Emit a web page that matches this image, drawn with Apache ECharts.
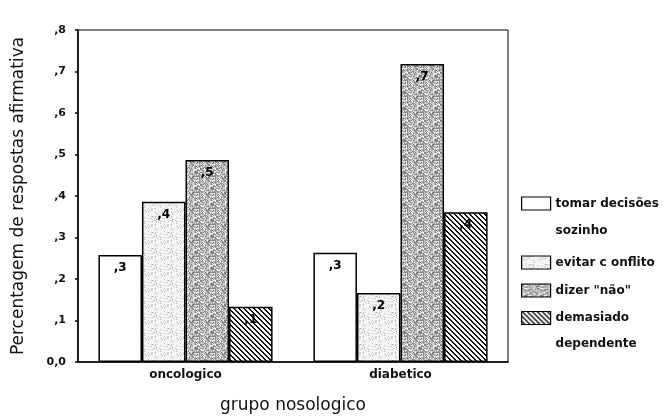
<!DOCTYPE html>
<html>
<head>
<meta charset="utf-8">
<script src="https://cdn.jsdelivr.net/npm/echarts@6/dist/echarts.min.js"></script>
<style>html,body{margin:0;padding:0;background:#fff}#c{width:665px;height:419px}</style>
</head>
<body>
<div id="c"></div>
<script>
var categories = ['oncologico', 'diabetico'];
var seriesNames = ['tomar decisões\nsozinho', 'evitar c onflito', 'dizer "não"', 'demasiado\ndependente'];
var tomarDecisoes = [0.258, 0.263];
var evitarConflito = [0.386, 0.166];
var dizerNao = [0.487, 0.718];
var demasiadoDependente = [0.133, 0.361];
var yTicks = [0, 0.1, 0.2, 0.3, 0.4, 0.5, 0.6, 0.7, 0.8];

function hash(x, y, s) {
  var h = (x * 374761393 + y * 668265263 + s * 982451653) | 0;
  h = (h ^ (h >>> 13)) * 1274126177 | 0;
  h = h ^ (h >>> 16);
  return ((h >>> 0) % 1000) / 1000;
}
function makeCanvas(w, h, fn) {
  var c = document.createElement('canvas');
  c.width = w; c.height = h;
  var ctx = c.getContext('2d');
  fn(ctx, w, h);
  return c;
}
var whitePat = '#ffffff';
var lightPat = makeCanvas(16, 16, function (ctx, w, h) {
  ctx.fillStyle = '#f6f6f6'; ctx.fillRect(0, 0, w, h);
  for (var y = 0; y < h; y++) for (var x = 0; x < w; x++) {
    var r = hash(x, y, 1);
    if (r < 0.22) { var g = 150 + Math.floor(hash(x, y, 2) * 80); ctx.fillStyle = 'rgb(' + g + ',' + g + ',' + g + ')'; ctx.fillRect(x, y, 1, 1); }
  }
});
var darkPat = makeCanvas(16, 16, function (ctx, w, h) {
  for (var y = 0; y < h; y++) for (var x = 0; x < w; x++) {
    var g = 115 + Math.floor(hash(x, y, 3) * 140);
    ctx.fillStyle = 'rgb(' + g + ',' + g + ',' + g + ')'; ctx.fillRect(x, y, 1, 1);
  }
});
var hatchPat = makeCanvas(5, 5, function (ctx, w, h) {
  ctx.fillStyle = '#ffffff'; ctx.fillRect(0, 0, w, h);
  ctx.fillStyle = '#111';
  for (var i = 0; i < w; i++) { ctx.fillRect(i, i, 1, 1); ctx.fillRect((i + 1) % w, i, 1, 1); }
});
var fills = [whitePat, { image: lightPat, repeat: 'repeat' }, { image: darkPat, repeat: 'repeat' }, { image: hatchPat, repeat: 'repeat' }];
var dataArr = [tomarDecisoes, evitarConflito, dizerNao, demasiadoDependente];

var font = 'DejaVu Sans';
var series = seriesNames.map(function (n, i) {
  return {
    name: n, type: 'bar', data: dataArr[i],
    barGap: '0%', barCategoryGap: '19%',
    itemStyle: { color: fills[i], borderColor: '#000', borderWidth: 1.5 },
    label: {
      show: true, position: 'insideTop', distance: 7,
      color: '#000', fontWeight: 'bold', fontSize: 12, fontFamily: font,
      formatter: function (p) { return ',' + Math.round(p.value * 10); }
    }
  };
});

var legendTops = [163, 249, 277, 279];
var legendLineHeights = [27, 27, 27, 26];
var legends = seriesNames.map(function (n, i) {
  var two = n.indexOf('\n') >= 0;
  return {
    data: [n],
    left: 521, top: legendTops[i], padding: 0,
    itemWidth: 29, itemHeight: 13, itemGap: 4,
    icon: 'rect', selectedMode: false,
    itemStyle: { borderColor: '#000', borderWidth: 1.2 },
    formatter: two ? function (name) { return '\n' + name; } : '{name}',
    textStyle: { fontFamily: font, fontWeight: 'bold', fontSize: 12, color: '#111', lineHeight: legendLineHeights[i] }
  };
});

var chart = echarts.init(document.getElementById('c'), null, { renderer: 'canvas' });
chart.setOption({
  animation: false,
  backgroundColor: '#fff',
  legend: legends,
  grid: { left: 78, right: 157, top: 30, bottom: 57, show: true, borderColor: '#000', borderWidth: 1, backgroundColor: 'transparent' },
  xAxis: {
    type: 'category', data: categories,
    name: 'grupo nosologico', nameLocation: 'middle', nameGap: 35,
    nameTextStyle: { fontFamily: font, fontSize: 17, color: '#111' },
    axisLine: { lineStyle: { color: '#000', width: 1.5 } },
    axisTick: { alignWithLabel: true, length: 4, lineStyle: { color: '#000', width: 2 } },
    axisLabel: { fontFamily: font, fontWeight: 'bold', fontSize: 12, color: '#111', margin: 7 }
  },
  yAxis: {
    type: 'value', min: 0, max: 0.8, interval: 0.1,
    name: 'Percentagem de respostas afirmativa', nameLocation: 'middle', nameGap: 51,
    nameTextStyle: { fontFamily: font, fontSize: 17, color: '#111' },
    axisLine: { show: true, lineStyle: { color: '#000', width: 1.5 } },
    axisTick: { show: true, length: 3, lineStyle: { color: '#000', width: 1.5 } },
    splitLine: { show: false },
    axisLabel: {
      fontFamily: font, fontWeight: 'bold', fontSize: 11, color: '#111', margin: 12,
      formatter: function (v) {
        var k = Math.round(v * 10);
        return k === 0 ? '0,0' : ',' + k;
      }
    }
  },
  series: series
});
</script>
</body>
</html>
